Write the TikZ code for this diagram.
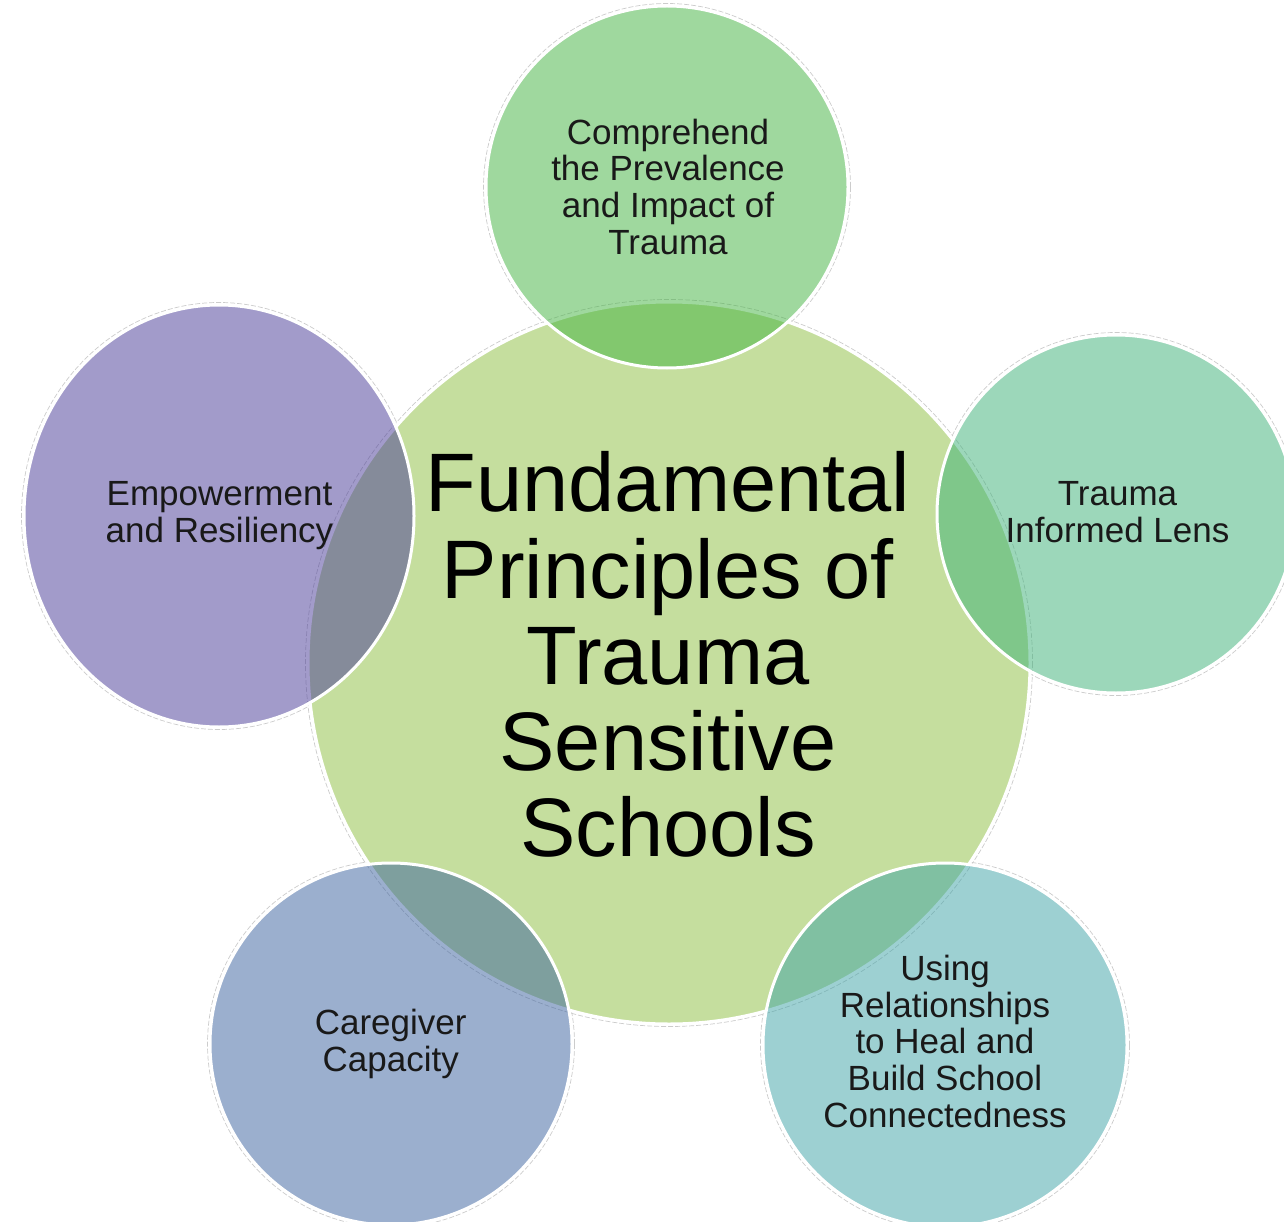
\documentclass[tikz,border=0pt]{standalone}
\usepackage{fontspec}
\setmainfont{Liberation Sans}
\usetikzlibrary{shapes.geometric}
\definecolor{cmain}{RGB}{197,222,158}
\definecolor{ctop}{RGB}{65,179,63}
\definecolor{cright}{RGB}{59,177,119}
\definecolor{cleft}{RGB}{71,57,151}
\definecolor{cbl}{RGB}{57,97,159}
\definecolor{cbr}{RGB}{61,163,167}
\begin{document}
\begin{tikzpicture}[x=1pt,y=-1pt,
 bubble/.style={circle,draw=white,line width=3pt,inner sep=0pt,outer sep=0pt},
 oval/.style={ellipse,draw=white,line width=3pt,inner sep=0pt,outer sep=0pt},
 glass/.style={fill opacity=0.5,draw opacity=1},
 halo/.style={draw=black!20,line width=0.7pt,dash pattern=on 5pt off 2pt},
 small/.style={inner sep=0pt,align=center,text=black!90,font=\fontsize{35}{36.7}\selectfont},
 big/.style={inner sep=0pt,align=center,text=black,font=\fontsize{83}{86.3}\selectfont}]
\useasboundingbox[fill=white] (0,0) rectangle (1284,1222);
% faint outer halos
\draw[halo] (669,663) circle (363.5);
\draw[halo] (667,187) circle (183.5);
\draw[halo] (1116,514) circle (181.5);
\draw[halo] (219,516) ellipse [x radius=197.5, y radius=213.5];
\draw[halo] (391,1044) circle (183.5);
\draw[halo] (945,1045) circle (184.5);
% central circle
\node[bubble,fill=cmain,minimum size=722pt] (main) at (669,663) {};
% outer circles
\node[bubble,glass,fill=ctop,minimum size=362pt] (top) at (667,187) {};
\node[bubble,glass,fill=cright,minimum size=358pt] (right) at (1116,514) {};
\node[oval,glass,fill=cleft,minimum width=390pt,minimum height=422pt] (left) at (219,516) {};
\node[bubble,glass,fill=cbl,minimum size=362pt] (bleft) at (391,1044) {};
\node[bubble,glass,fill=cbr,minimum size=364pt] (bright) at (945,1045) {};
% texts
\node[big] (ctext) at (668,654.7) {Fundamental\\Principles of\\Trauma\\Sensitive\\Schools};
\node[small] (ttext) at (668,186.6) {Comprehend\\the Prevalence\\and Impact of\\Trauma};
\node[small] (rtext) at (1117.5,512) {Trauma\\Informed Lens};
\node[small] (ltext) at (219.5,515.4) {Empowerment\\and Resiliency};
\node[small] (bltext) at (390.7,1043.7) {Caregiver\\Capacity};
\node[small] (brtext) at (945,1041.3) {Using\\Relationships\\to Heal and\\Build School\\Connectedness};
\end{tikzpicture}
\end{document}
